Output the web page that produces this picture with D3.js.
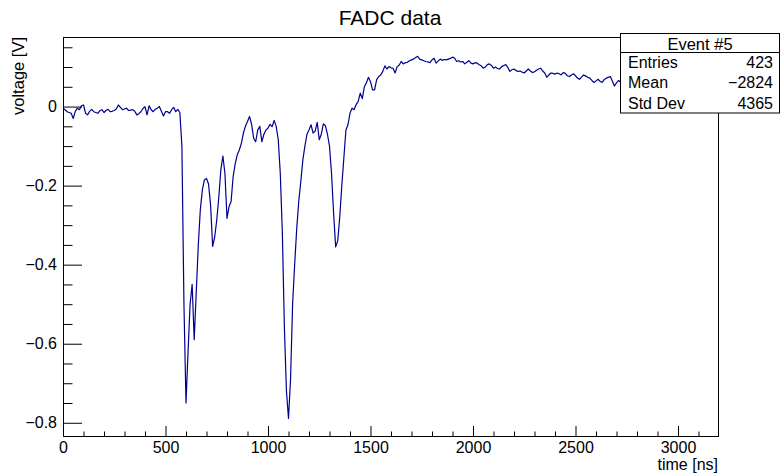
<!DOCTYPE html>
<html>
<head>
<meta charset="utf-8">
<script src="https://cdn.jsdelivr.net/npm/d3@7"></script>
<style>
  body { margin: 0; background: #fff; }
  svg { display: block; font-family: "Liberation Sans", Arial, sans-serif; }
</style>
</head>
<body>
<svg width="780" height="475"></svg>
<script>
// FADC trace, one sample every 10 ns starting at t = 0
const binWidth = 10;
const voltage = [
  -0.004, -0.008, -0.013, -0.015, -0.017, -0.030, -0.012, -0.004, -0.008, 0.002,
  0.004, -0.017, -0.021, -0.012, -0.007, -0.013, -0.015, -0.017, -0.010, -0.008,
  -0.015, -0.010, -0.007, -0.013, -0.012, -0.010, -0.006, 0.004, -0.002, -0.008,
  -0.006, -0.004, -0.010, -0.009, -0.008, -0.012, -0.021, -0.018, -0.013, -0.005,
  0.000, -0.021, 0.002, -0.008, -0.013, -0.007, -0.004, 0.000, -0.012, -0.024,
  -0.013, -0.013, -0.017, -0.008, -0.002, -0.013, -0.007, -0.015, -0.100, -0.500,
  -0.750, -0.620, -0.500, -0.450, -0.590, -0.470, -0.350, -0.260, -0.210, -0.185,
  -0.182, -0.196, -0.250, -0.354, -0.330, -0.287, -0.230, -0.160, -0.125, -0.170,
  -0.283, -0.253, -0.240, -0.177, -0.145, -0.122, -0.110, -0.093, -0.067, -0.050,
  -0.038, -0.025, -0.045, -0.080, -0.089, -0.059, -0.050, -0.089, -0.070, -0.059,
  -0.055, -0.045, -0.051, -0.035, -0.050, -0.084, -0.170, -0.320, -0.560, -0.720,
  -0.789, -0.690, -0.500, -0.400, -0.310, -0.240, -0.190, -0.135, -0.100, -0.070,
  -0.059, -0.046, -0.067, -0.062, -0.040, -0.084, -0.070, -0.044, -0.048, -0.070,
  -0.100, -0.170, -0.270, -0.355, -0.340, -0.280, -0.200, -0.130, -0.060, -0.046,
  -0.017, -0.004, -0.008, 0.005, 0.013, 0.034, 0.020, 0.050, 0.060, 0.074,
  0.063, 0.042, 0.042, 0.068, 0.076, 0.080, 0.089, 0.103, 0.095, 0.101,
  0.098, 0.097, 0.085, 0.101, 0.105, 0.114, 0.108, 0.111, 0.112, 0.116,
  0.118, 0.120, 0.124, 0.127, 0.120, 0.118, 0.116, 0.114, 0.113, 0.111,
  0.118, 0.122, 0.110, 0.115, 0.120, 0.117, 0.119, 0.118, 0.120, 0.122,
  0.125, 0.123, 0.114, 0.116, 0.113, 0.114, 0.108, 0.112, 0.116, 0.110,
  0.108, 0.111, 0.110, 0.106, 0.103, 0.097, 0.100, 0.106, 0.108, 0.104,
  0.097, 0.100, 0.096, 0.095, 0.101, 0.104, 0.106, 0.099, 0.089, 0.093,
  0.095, 0.091, 0.089, 0.090, 0.087, 0.085, 0.090, 0.095, 0.090, 0.086,
  0.088, 0.092, 0.095, 0.097, 0.090, 0.085, 0.074, 0.080, 0.085, 0.084,
  0.082, 0.085, 0.083, 0.080, 0.086, 0.084, 0.078, 0.076, 0.080, 0.083,
  0.078, 0.072, 0.069, 0.075, 0.080, 0.077, 0.074, 0.072, 0.066, 0.061,
  0.065, 0.069, 0.064, 0.061, 0.068, 0.072, 0.074, 0.076, 0.064, 0.052,
  0.060, 0.066, 0.062, 0.058, 0.064, 0.060, 0.057, 0.062, 0.059, 0.061
];

const xMajor = [0, 500, 1000, 1500, 2000, 2500, 3000];
const yMajor = [0, -0.2, -0.4, -0.6, -0.8];
const statsTitle = "Event #5";
const statsLabels = ["Entries", "Mean", "Std Dev"];
const statsValues = ["423", "\u22122824", "4365"];

const svg = d3.select("svg");
const width = +svg.attr("width");
const height = +svg.attr("height");

const frame = { left: 63, right: 719, top: 37, bottom: 437 };

const x = d3.scaleLinear().domain([0, 3200]).range([frame.left, frame.right]);
const y = d3.scaleLinear().domain([-0.836, 0.176]).range([frame.bottom, frame.top]);

const points = voltage.map((v, i) => [i * binWidth, v]);

const line = d3.line()
  .x(d => x(d[0]))
  .y(d => y(d[1]));

svg.append("path")
  .datum(points)
  .attr("fill", "none")
  .attr("stroke", "#00008f")
  .attr("stroke-width", 1.2)
  .attr("stroke-linejoin", "round")
  .attr("d", line);

// x axis: minor + major ticks inside the frame
const xMinor = d3.range(100, 3200, 100).filter(d => d % 500 !== 0);
svg.append("g")
  .attr("transform", `translate(0, ${frame.bottom})`)
  .call(d3.axisBottom(x).tickValues(xMinor).tickSize(-5.5).tickFormat(""))
  .call(g => g.select(".domain").remove());

svg.append("g")
  .attr("transform", `translate(0, ${frame.bottom})`)
  .call(d3.axisBottom(x).tickValues(xMajor).tickSize(-11).tickPadding(5).tickFormat(d3.format("d")))
  .call(g => g.select(".domain").remove())
  .call(g => g.selectAll("text").attr("font-size", 16).attr("fill", "#000")
    .attr("font-family", "Liberation Sans, Arial, sans-serif"));

// y axis
const yMinor = d3.range(-16, 4).map(d => d * 0.05)
  .filter(d => d > y.domain()[0] && d < y.domain()[1])
  .filter(d => Math.abs(d / 0.2 - Math.round(d / 0.2)) > 1e-6);
svg.append("g")
  .attr("transform", `translate(${frame.left}, 0)`)
  .call(d3.axisLeft(y).tickValues(yMinor).tickSize(-9.5).tickFormat(""))
  .call(g => g.select(".domain").remove());

svg.append("g")
  .attr("transform", `translate(${frame.left}, 0)`)
  .call(d3.axisLeft(y).tickValues(yMajor).tickSize(-19).tickPadding(6)
    .tickFormat(d => d === 0 ? "0" : d3.format(".1f")(d)))
  .call(g => g.select(".domain").remove())
  .call(g => g.selectAll("text").attr("font-size", 16).attr("fill", "#000")
    .attr("font-family", "Liberation Sans, Arial, sans-serif"));

// frame
svg.append("rect")
  .attr("x", frame.left + 0.5)
  .attr("y", frame.top + 0.5)
  .attr("width", frame.right - frame.left - 1)
  .attr("height", frame.bottom - frame.top - 1)
  .attr("fill", "none")
  .attr("stroke", "#000")
  .attr("stroke-width", 1);

// titles
svg.append("text")
  .attr("x", 390).attr("y", 25)
  .attr("text-anchor", "middle")
  .attr("font-size", 21)
  .text("FADC data");

svg.append("text")
  .attr("x", frame.right - 1).attr("y", 470)
  .attr("text-anchor", "end")
  .attr("font-size", 16)
  .text("time [ns]");

svg.append("text")
  .attr("transform", `translate(23.5, ${frame.top}) rotate(-90)`)
  .attr("text-anchor", "end")
  .attr("font-size", 16.5)
  .text("voltage [V]");

// stats box
const box = { x: 620.5, y: 33.5, w: 159, h: 79.5, header: 19 };
const stats = svg.append("g");
stats.append("rect")
  .attr("x", box.x).attr("y", box.y)
  .attr("width", box.w).attr("height", box.h)
  .attr("fill", "#fff").attr("stroke", "#000");
stats.append("line")
  .attr("x1", box.x).attr("x2", box.x + box.w)
  .attr("y1", box.y + box.header).attr("y2", box.y + box.header)
  .attr("stroke", "#000");
stats.append("text")
  .attr("x", box.x + box.w / 2).attr("y", 50)
  .attr("text-anchor", "middle")
  .attr("font-size", 16.5)
  .text(statsTitle);
statsLabels.forEach((label, i) => {
  const by = 68 + i * 20.3;
  stats.append("text")
    .attr("x", 628).attr("y", by)
    .attr("font-size", 16)
    .text(label);
  stats.append("text")
    .attr("x", 773).attr("y", by)
    .attr("text-anchor", "end")
    .attr("font-size", 16)
    .text(statsValues[i]);
});
</script>
</body>
</html>
